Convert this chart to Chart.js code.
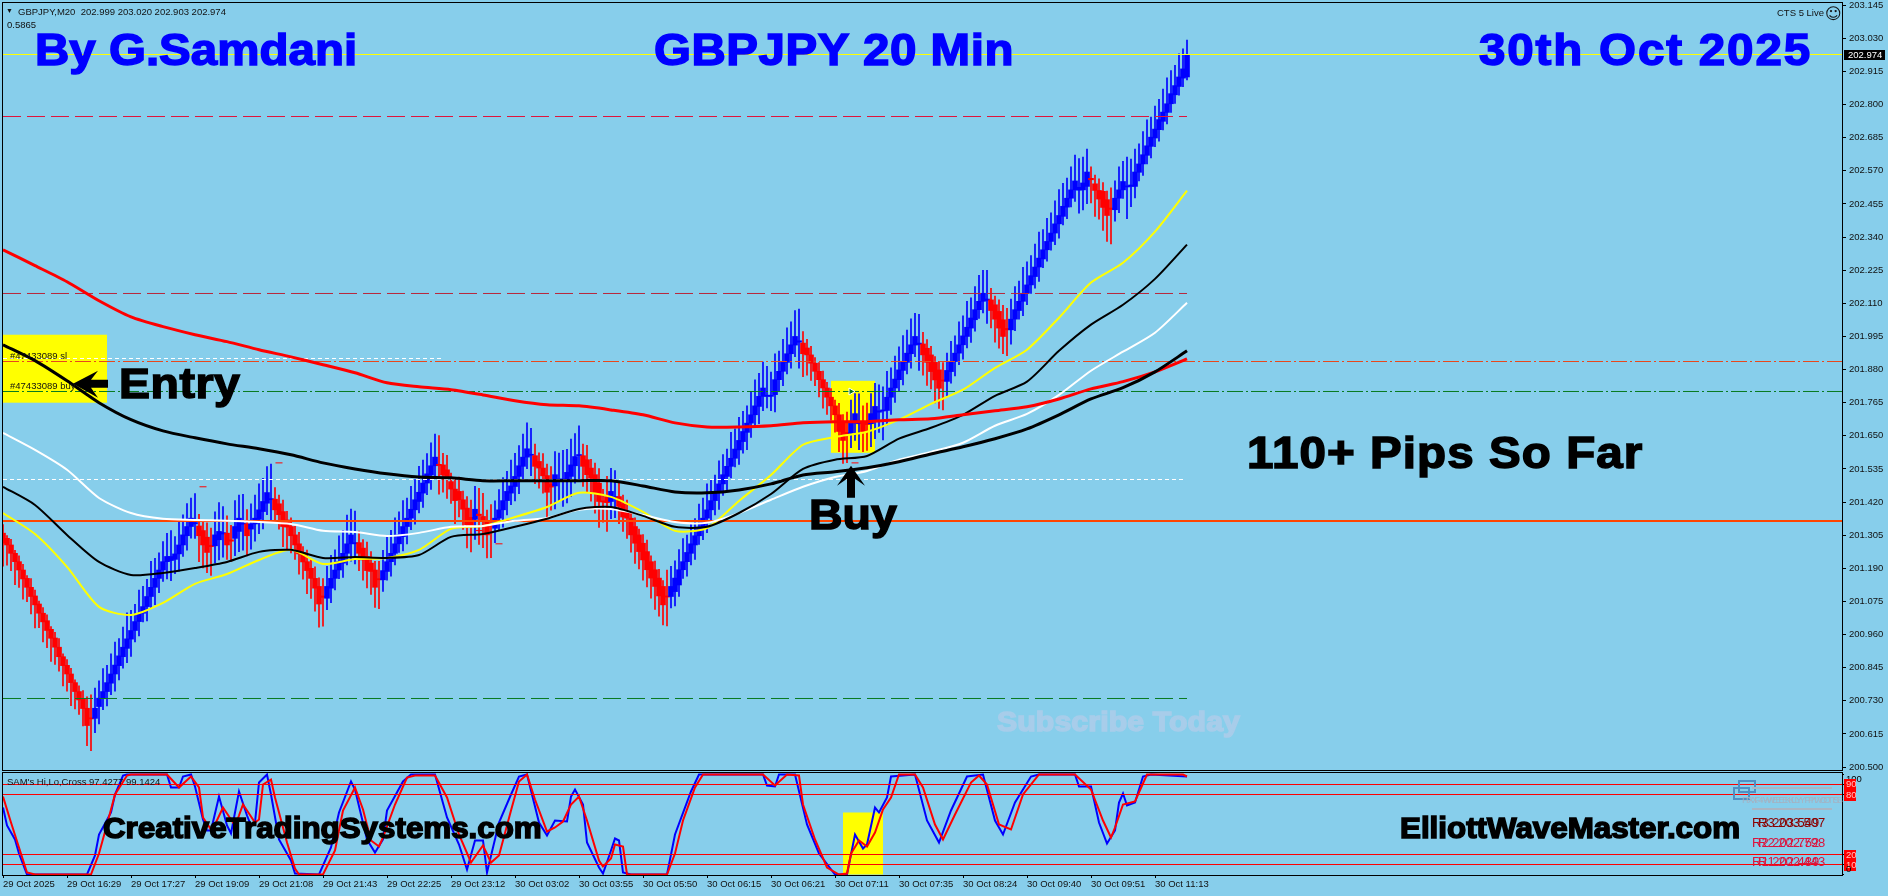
<!DOCTYPE html>
<html>
<head>
<meta charset="utf-8">
<title>GBPJPY 20 Min</title>
<script src="https://cdn.jsdelivr.net/npm/chart.js@4/dist/chart.umd.min.js"></script>
<style>
    html, body { margin: 0; padding: 0; width: 1888px; height: 896px; overflow: hidden; background: #87ceeb; }
    canvas { position: absolute; left: 0; }
    #priceChart { top: 0; }
    #oscChart { top: 771px; }
    .note { position: absolute; white-space: pre; line-height: 1; font-family: 'Liberation Sans', Arial, sans-serif; font-weight: bold; color: #000; -webkit-text-stroke: 1.5px currentColor; transform-origin: left top; transform: scaleX(1.08); }
    .title { font-size: 44px; color: #0000ff; }
    .small { position: absolute; white-space: pre; line-height: 1; font: 9.5px 'Liberation Sans', Arial, sans-serif; color: #111; }
    .pivot { position: absolute; white-space: pre; line-height: 1; font: 13px 'Liberation Sans', Arial, sans-serif; }
</style>
</head>
<body>
<canvas id="priceChart" width="1888" height="771"></canvas>
<canvas id="oscChart" width="1888" height="125"></canvas>

<div class="small" style="left:6px;top:7px;font-size:7px">▼</div>
<div class="small" style="left:18px;top:6px">GBPJPY,M20  202.999 203.020 202.903 202.974</div>
<div class="small" style="left:7px;top:19px">0.5865</div>
<div class="small" style="left:1777px;top:7px">CTS 5 Live</div>
<div class="small" style="left:1825px;top:4px;font:16px 'DejaVu Sans'">☺</div>
<div class="small" style="left:10px;top:350px">#47433089 sl</div>
<div class="small" style="left:10px;top:380px">#47433089 buy</div>
<div class="small" style="left:7px;top:776px">SAM's Hi,Lo,Cross 97.4277 99.1424</div>

<div class="note title" style="left:35px;top:28px">By G.Samdani</div>
<div class="note title" style="left:654px;top:28px;letter-spacing:.5px">GBPJPY 20 Min</div>
<div class="note title" style="left:1479px;top:28px;letter-spacing:1.7px">30th Oct 2025</div>
<div class="note" style="left:119px;top:361.5px;font-size:43px;letter-spacing:.5px">Entry</div>
<div class="note" style="left:809px;top:492.5px;font-size:43px">Buy</div>
<div class="note" style="left:1247px;top:431px;font-size:44px;letter-spacing:1px">110+ Pips So Far</div>
<div class="note" style="left:997px;top:708px;font-size:28px;letter-spacing:.1px;color:#a8cdea">Subscribe Today</div>
<div class="note" style="left:103px;top:813.5px;font-size:29px">CreativeTradingSystems.com</div>
<div class="note" style="left:1400px;top:813.5px;font-size:29px">ElliottWaveMaster.com</div>

<div style="position:absolute;left:1738px;top:780px;width:14px;height:9px;border:2px solid #4f8fc4"></div>
<div style="position:absolute;left:1733px;top:787px;width:13px;height:9px;border:2px solid #4f8fc4"></div>
<div style="position:absolute;left:1752px;top:787px;width:80px;height:2px;background:#a9b6c4"></div>
<div style="position:absolute;left:1752px;top:808px;width:80px;height:2px;background:#a9b6c4"></div>
<div class="small" style="left:1742px;top:794px;color:#9fb2c6">FXF-WEEKLY PIVOTS</div>
<div class="small" style="left:1746px;top:794px;color:#a7b4c2">FX4-WEEKLY PIVOTS</div>
<div class="pivot" style="left:1752px;top:815px;color:#8b0000">R3 203.549</div>
<div class="pivot" style="left:1758px;top:815px;color:#8b0000">R3 203.507</div>
<div class="pivot" style="left:1752px;top:835px;color:#dc143c">R2 202.752</div>
<div class="pivot" style="left:1758px;top:835px;color:#dc143c">R2 202.798</div>
<div class="pivot" style="left:1752px;top:854px;color:#dc143c">R1 202.489</div>
<div class="pivot" style="left:1758px;top:854px;color:#dc143c">R1 202.443</div>

<script>
Chart.defaults.font.family = "'Liberation Sans', Arial, sans-serif";
Chart.defaults.font.size = 9.5;
Chart.defaults.color = '#111';

// Candle bodies, bar by bar
const opens = [
    201.312, 201.294, 201.271, 201.242, 201.213, 201.184, 201.155, 201.124, 201.094, 201.066,
    201.034, 201.008, 200.978, 200.948, 200.916, 200.883, 200.853, 200.823, 200.793, 200.762,
    200.735, 200.704, 200.671, 200.669, 200.710, 200.739, 200.762, 200.791, 200.823, 200.852,
    200.883, 200.912, 200.944, 200.974, 201.005, 201.034, 201.057, 201.092, 201.124, 201.155,
    201.184, 201.213, 201.217, 201.221, 201.240, 201.271, 201.303, 201.335, 201.344, 201.337,
    201.321, 201.298, 201.270, 201.268, 201.289, 201.309, 201.312, 201.289, 201.294, 201.318,
    201.343, 201.344, 201.326, 201.344, 201.360, 201.387, 201.416, 201.428, 201.430, 201.414,
    201.387, 201.358, 201.335, 201.306, 201.275, 201.245, 201.213, 201.190, 201.155, 201.127,
    201.094, 201.086, 201.121, 201.155, 201.184, 201.208, 201.242, 201.275, 201.275, 201.279,
    201.260, 201.231, 201.208, 201.184, 201.154, 201.150, 201.179, 201.213, 201.242, 201.275,
    201.300, 201.335, 201.364, 201.393, 201.422, 201.451, 201.486, 201.514, 201.546, 201.551,
    201.549, 201.532, 201.491, 201.465, 201.457, 201.428, 201.399, 201.367, 201.360, 201.378,
    201.370, 201.352, 201.341, 201.329, 201.364, 201.393, 201.425, 201.451, 201.474, 201.509,
    201.544, 201.576, 201.582, 201.581, 201.561, 201.538, 201.512, 201.483, 201.476, 201.495,
    201.495, 201.497, 201.509, 201.546, 201.581, 201.581, 201.567, 201.538, 201.515, 201.486,
    201.424, 201.439, 201.422, 201.436, 201.439, 201.414, 201.387, 201.364, 201.335, 201.306,
    201.277, 201.248, 201.213, 201.185, 201.156, 201.127, 201.094, 201.092, 201.109, 201.132,
    201.185, 201.213, 201.242, 201.271, 201.303, 201.329, 201.364, 201.393, 201.425, 201.454,
    201.483, 201.509, 201.544, 201.572, 201.601, 201.630, 201.662, 201.694, 201.723, 201.752,
    201.787, 201.787, 201.787, 201.793, 201.845, 201.874, 201.905, 201.935, 201.965, 201.975,
    201.972, 201.955, 201.931, 201.902, 201.874, 201.845, 201.816, 201.784, 201.754, 201.723,
    201.694, 201.662, 201.659, 201.694, 201.692, 201.694, 201.694, 201.692, 201.700, 201.732,
    201.736, 201.738, 201.784, 201.816, 201.845, 201.877, 201.905, 201.935, 201.965, 201.967,
    201.969, 201.954, 201.931, 201.905, 201.879, 201.844, 201.839, 201.873, 201.908, 201.937,
    201.966, 201.995, 202.024, 202.053, 202.088, 202.117, 202.120, 202.122, 202.105, 202.082,
    202.053, 202.023, 202.018, 202.055, 202.085, 202.117, 202.145, 202.174, 202.203, 202.236,
    202.264, 202.296, 202.325, 202.354, 202.386, 202.412, 202.444, 202.475, 202.504, 202.503,
    202.504, 202.516, 202.544, 202.525, 202.502, 202.499, 202.470, 202.441, 202.435, 202.475,
    202.504, 202.514, 202.516, 202.516, 202.565, 202.594, 202.624, 202.655, 202.684, 202.713,
    202.742, 202.773, 202.803, 202.834, 202.863, 202.892, 202.896
];
const closes = [
    201.277, 201.271, 201.242, 201.213, 201.184, 201.153, 201.124, 201.092, 201.063, 201.034,
    201.004, 200.974, 200.947, 200.916, 200.883, 200.852, 200.823, 200.793, 200.762, 200.733,
    200.703, 200.644, 200.667, 200.704, 200.739, 200.762, 200.793, 200.823, 200.854, 200.886,
    200.916, 200.945, 200.974, 201.005, 201.034, 201.057, 201.092, 201.124, 201.155, 201.184,
    201.213, 201.231, 201.231, 201.240, 201.271, 201.306, 201.335, 201.364, 201.349, 201.303,
    201.271, 201.245, 201.265, 201.306, 201.318, 201.314, 201.271, 201.284, 201.335, 201.364,
    201.347, 201.303, 201.344, 201.364, 201.393, 201.422, 201.453, 201.432, 201.393, 201.376,
    201.335, 201.333, 201.303, 201.271, 201.240, 201.212, 201.182, 201.155, 201.121, 201.066,
    201.089, 201.127, 201.155, 201.184, 201.213, 201.242, 201.275, 201.306, 201.279, 201.242,
    201.219, 201.182, 201.179, 201.124, 201.150, 201.182, 201.213, 201.242, 201.275, 201.306,
    201.335, 201.364, 201.395, 201.428, 201.454, 201.486, 201.518, 201.546, 201.576, 201.547,
    201.514, 201.503, 201.465, 201.425, 201.428, 201.395, 201.341, 201.337, 201.395, 201.373,
    201.352, 201.306, 201.337, 201.364, 201.393, 201.425, 201.457, 201.476, 201.509, 201.546,
    201.576, 201.605, 201.586, 201.544, 201.538, 201.511, 201.454, 201.472, 201.515, 201.500,
    201.500, 201.523, 201.549, 201.578, 201.585, 201.544, 201.515, 201.503, 201.451, 201.422,
    201.420, 201.418, 201.457, 201.439, 201.405, 201.368, 201.364, 201.306, 201.277, 201.248,
    201.219, 201.185, 201.156, 201.127, 201.094, 201.063, 201.090, 201.127, 201.156, 201.185,
    201.213, 201.245, 201.275, 201.303, 201.333, 201.364, 201.393, 201.425, 201.454, 201.483,
    201.515, 201.544, 201.572, 201.604, 201.634, 201.665, 201.694, 201.723, 201.754, 201.787,
    201.816, 201.791, 201.791, 201.845, 201.874, 201.905, 201.935, 201.966, 201.995, 201.980,
    201.935, 201.931, 201.902, 201.874, 201.845, 201.816, 201.784, 201.754, 201.723, 201.665,
    201.634, 201.657, 201.694, 201.727, 201.696, 201.665, 201.689, 201.727, 201.752, 201.737,
    201.740, 201.784, 201.816, 201.847, 201.879, 201.908, 201.937, 201.966, 201.995, 201.972,
    201.931, 201.905, 201.873, 201.844, 201.815, 201.840, 201.877, 201.908, 201.937, 201.966,
    201.997, 202.027, 202.059, 202.088, 202.117, 202.145, 202.125, 202.085, 202.055, 202.024,
    201.995, 202.018, 202.055, 202.088, 202.117, 202.145, 202.174, 202.206, 202.236, 202.267,
    202.296, 202.325, 202.354, 202.386, 202.415, 202.447, 202.475, 202.504, 202.535, 202.513,
    202.528, 202.566, 202.539, 202.502, 202.472, 202.443, 202.415, 202.436, 202.475, 202.504,
    202.533, 202.518, 202.521, 202.566, 202.594, 202.626, 202.657, 202.687, 202.715, 202.748,
    202.774, 202.803, 202.838, 202.866, 202.896, 202.924, 202.974
];
// Wick lengths above and below each body, in pips
const upWick = [
    3,1,2,1,2,2,1,3,2,1,2,2,1,2,3,1,2,2,1,2,3,4,8,
    7,6,8,6,7,8,6,7,9,7,6,8,7,6,9,7,6,7,8,9,6,8,7,8,7,10,
    4,3,5,6, 8,10,9, 6,5, 9,8,10, 5, 7,8,9,8,9,12,
    4,3,4,3,3,3,4,2,4,3,4,3,6, 7,8,7,9,8,10,9,11, 4,3,5,4,3,6,
    7,9,8,9,8,9,7,8,7,9,8,7,8,8, 10,4,5,3,4,5,3,4,6, 8, 9,8,4,7,
    6,7,8,7,9,8,7,8,9,9, 4,3,5,4,6, 8,9,10,8,9,8,10, 4,5,3,4,5,4,7, 8,9,
    5,3,4,2,3,2,3,4,2,3,3,2,9,
    7,6,7,8,6,7,6,8,7,9,7,6,8,7,6,9,7,8,7,6,8,9,8,9,10,8,9,7,8,9,8,9,11,
    4,3,3,2,3,3,2,3,2,4,3,7, 8,7,10, 6,7, 7,8,9,8,9,7,8,8,9,8,9,8,10,
    4,3,3,2,3,6, 6,7,6,8,7,9,7,8,9,8,10, 4,3,4,5,7,
    7,8,7,9,8,7,8,9,7,8,7,8,9,8,7,8,9,10,9,8, 4,3,4,3,3,7,
    6,8,7,10,9,8,7,8,9,7,8,7,8,9,8,7,8,7,5
];
const downWick = [
    8,7,6,8,6,7,5,6,8,5,7,6,8,6,5,7,6,8,6,5,6,7,11,
    5,6,4,5,4,6,5,4,5,6,4,5,3,5,4,6,5,4,6,7,5,6,4,5,4,5,
    9,8,7,10, 6,7,8, 5,7, 6,7,9, 7, 7,6,5,6,4,8,
    4,5,7,8,6,5,7,6,8,7,8,8,10, 4,5,4,3,5,4,6,7, 6,7,6,8,7,10,
    4,3,5,4,3,5,6,4,5,4,5,4,5,4, 10,6,7,5,8,6,7,8,9, 7, 10,9,8,11,
    5,4,6,5,4,5,6,5,4,7, 6,7,6,9,8, 8,7,9,8,7,6,8, 7,6,8,7,9,7,10, 6,7,
    6,5,7,6,7,6,7,6,7,8,7,7,10,
    4,5,4,3,5,4,5,3,4,5,4,5,6,4,5,4,3,5,4,6,5,4,6,5,4,5,6,4,5,4,5,4,9,
    8,7,6,5,6,7,6,5,6,7,8,10, 5,6,9, 7,9, 8,6,7,10,5,6,5,4,5,4,5,4,9,
    7,8,6,8,7,10, 5,4,5,4,5,4,5,4,3,4,8, 6,8,7,6,9,
    5,4,3,5,4,3,4,5,3,4,3,4,5,3,4,3,4,8,7,6, 8,9,7,8,9,12,
    4,5,3,11,7,4,3,4,3,4,3,4,3,4,3,3,3,3,1
];

// Moving averages, sampled every eighth bar
const maBars = [0,8,16,24,32,40,48,56,64,72,80,88,96,104,112,120,128,136,144,152,160,168,176,184,192,200,208,216,224,232,240,248,256,264,272,280,288,296];
const slowRedMa = [202.296,202.241,202.185,202.119,202.063,202.029,202.001,201.977,201.949,201.924,201.897,201.869,201.834,201.820,201.810,201.792,201.772,201.758,201.754,201.740,201.723,201.695,201.681,201.681,201.685,201.695,201.699,201.699,201.706,201.709,201.723,201.737,201.751,201.778,201.813,201.838,201.872,201.917];
const slowBlackMa = [201.966,201.911,201.841,201.765,201.706,201.667,201.643,201.622,201.605,201.584,201.556,201.535,201.518,201.507,201.504,201.494,201.494,201.494,201.494,201.494,201.476,201.455,201.452,201.462,201.483,201.514,201.525,201.539,201.560,201.587,201.612,201.640,201.674,201.723,201.778,201.817,201.872,201.945];
const whiteMa = [201.660,201.601,201.532,201.434,201.382,201.362,201.358,201.355,201.351,201.344,201.320,201.316,201.302,201.313,201.334,201.337,201.355,201.365,201.393,201.396,201.375,201.351,201.348,201.382,201.428,201.473,201.507,201.528,201.567,201.594,201.626,201.685,201.726,201.792,201.876,201.942,202.008,202.112];
const blackMa = [201.473,201.410,201.306,201.212,201.167,201.174,201.191,201.212,201.247,201.254,201.226,201.229,201.226,201.236,201.299,201.309,201.334,201.362,201.396,201.403,201.372,201.334,201.334,201.382,201.448,201.535,201.567,201.580,201.640,201.678,201.723,201.789,201.838,201.945,202.036,202.105,202.195,202.314];
const yellowMa = [201.382,201.309,201.195,201.056,201.028,201.070,201.136,201.170,201.219,201.254,201.205,201.222,201.226,201.254,201.327,201.337,201.368,201.403,201.452,201.438,201.386,201.320,201.330,201.424,201.514,201.619,201.646,201.664,201.706,201.761,201.810,201.886,201.949,202.060,202.182,202.251,202.359,202.501];

// Price levels
const bidPrice = 202.974;
const pivotHigh = 202.7587;
const pivotMid = 202.1442;
const slPrice = 201.9080;
const buyPrice = 201.8039;
const slTradeLine = 201.9185;
const whiteLevel = 201.4983;
const orangeLevel = 201.3542;
const pivotLow = 200.7379;
const lastBar = 296;

const stopMarkBars = [50, 69, 119, 124, 213];
const stopMarkPrices = [201.473, 201.556, 201.321, 201.275, 201.556];

// Tick labels
const priceTicks = [203.145,203.030,202.915,202.800,202.685,202.570,202.455,202.340,202.225,202.110,201.995,201.880,201.765,201.650,201.535,201.420,201.305,201.190,201.075,200.960,200.845,200.730,200.615,200.500];
const dateLabels = ['29 Oct 2025','29 Oct 16:29','29 Oct 17:27','29 Oct 19:09','29 Oct 21:08','29 Oct 21:43','29 Oct 22:25','29 Oct 23:12','30 Oct 03:02','30 Oct 03:55','30 Oct 05:50','30 Oct 06:15','30 Oct 06:21','30 Oct 07:11','30 Oct 07:35','30 Oct 08:24','30 Oct 09:40','30 Oct 09:51','30 Oct 11:13'];
const barsPerLabel = 16;

// Oscillator lines
const fastBars = [0,1,3,4,6,21,23,24,27,28,30,31,41,42,44,45,47,48,50,51,52,54,56,57,59,61,62,63,64,66,67,69,72,73,79,82,84,87,88,91,93,95,96,100,102,108,111,114,116,118,120,121,124,127,129,131,134,136,138,141,142,143,145,146,149,150,152,153,154,155,157,166,168,172,174,190,191,193,194,198,201,204,208,211,213,215,216,218,219,221,222,228,231,234,237,241,245,248,250,253,257,259,268,269,272,274,276,278,279,280,281,283,285,287,296];
const fastValues = [67,49,35,21,0,0,19,40,62,80,99,100,100,87,87,98,100,88,55,44,44,78,49,41,83,59,49,52,92,100,80,35,14,1,0,27,62,93,85,35,22,35,64,93,100,100,57,30,5,34,34,2,52,80,98,100,52,39,54,53,78,85,70,32,7,1,24,36,34,2,0,0,40,83,100,100,89,88,100,100,50,21,0,0,40,26,30,67,62,77,98,100,54,32,64,98,100,54,40,72,98,100,100,88,88,52,31,44,72,81,69,72,98,100,98];
const slowBars = [0,2,4,6,8,22,24,26,28,31,32,41,44,47,49,50,52,53,55,57,58,59,60,61,63,64,65,67,68,71,73,74,80,83,85,88,90,92,94,95,98,101,103,108,111,114,117,120,122,124,127,129,131,133,136,138,140,142,144,146,149,150,152,153,155,156,166,168,170,173,175,190,193,196,199,200,203,206,209,211,212,214,216,218,220,222,224,228,230,233,235,238,242,244,246,249,252,255,259,268,272,275,277,278,280,283,286,295,296];
const slowValues = [78,52,27,2,0,0,21,50,80,99,100,100,87,98,87,57,45,50,67,55,49,59,70,64,52,55,90,95,77,32,6,0,0,24,64,87,65,34,28,37,70,97,99,99,77,40,12,29,12,19,64,93,100,75,43,47,53,70,78,54,14,8,16,30,28,0,0,21,54,87,100,100,89,100,99,70,35,7,0,1,21,34,28,42,65,77,100,100,87,50,35,60,92,99,90,50,45,80,100,100,85,54,37,47,70,73,100,100,98];
const oscLevels = [90, 80, 20, 10];
const oscTicks = [100, 90, 80, 20, 10, 0];

// Highlight boxes as bar range and value range
const entryBox = [0, 26, 201.765, 202.001];
const buyBox = [207, 218, 201.591, 201.841];
const oscBox = [210, 220, 0, 62];

const barIndex = closes.map((_, i) => i);
const barColor = ctx => closes[ctx.dataIndex] >= opens[ctx.dataIndex] ? '#0000ff' : '#ff0000';

function levelLine(price, color, dash, endBar, width) {
    return {
        type: 'line',
        data: [{ x: 0, y: price }, { x: endBar, y: price }],
        borderColor: color,
        borderWidth: width || 1,
        borderDash: dash,
        pointRadius: 0,
        order: 25
    };
}

function maLine(values, color, width, order) {
    return {
        type: 'line',
        data: maBars.map((b, i) => ({ x: b, y: values[i] })),
        borderColor: color,
        borderWidth: width,
        pointRadius: 0,
        tension: 0.25,
        order: order
    };
}

function fillBox(chart, box, yScaleId) {
    const ctx = chart.ctx;
    const x = chart.scales.x;
    const y = chart.scales[yScaleId];
    const left = Math.max(x.getPixelForValue(box[0]), chart.chartArea.left);
    const right = x.getPixelForValue(box[1]);
    const top = y.getPixelForValue(box[3]);
    const bottom = y.getPixelForValue(box[2]);
    ctx.fillStyle = '#ffff00';
    ctx.fillRect(left, top, right - left, bottom - top);
}

function drawArrow(chart, bar, price, points) {
    const ctx = chart.ctx;
    const px = chart.scales.x.getPixelForValue(bar);
    const py = chart.scales.y.getPixelForValue(price);
    ctx.save();
    ctx.fillStyle = '#000';
    ctx.beginPath();
    points.forEach((p, i) => {
        if (i === 0) ctx.moveTo(px + p[0], py + p[1]);
        else ctx.lineTo(px + p[0], py + p[1]);
    });
    ctx.closePath();
    ctx.fill();
    ctx.restore();
}

// Black frame round a panel
const panelFrame = {
    id: 'panelFrame',
    afterDatasetsDraw(chart) {
        const a = chart.chartArea;
        const ctx = chart.ctx;
        ctx.save();
        ctx.strokeStyle = '#000';
        ctx.lineWidth = 1;
        ctx.strokeRect(Math.round(a.left) - 0.5, Math.round(a.top) + 0.5, Math.round(a.right - a.left), Math.round(a.bottom - a.top));
        ctx.restore();
    }
};

const priceExtras = {
    id: 'priceExtras',
    beforeDatasetsDraw(chart) {
        fillBox(chart, entryBox, 'y');
        fillBox(chart, buyBox, 'y');
    },
    afterDatasetsDraw(chart) {
        drawArrow(chart, 17.5, 201.831, [[0,0],[25,-13],[18,-4],[35,-4],[35,4],[18,4],[25,14]]);
        drawArrow(chart, 212, 201.546, [[0,0],[14,20],[4,13],[4,32],[-4,32],[-4,13],[-14,20]]);
        // last price box on the axis
        const ctx = chart.ctx;
        const y = chart.scales.y.getPixelForValue(bidPrice);
        ctx.save();
        ctx.fillStyle = '#000';
        ctx.fillRect(1844, Math.round(y) - 5, 41, 10);
        ctx.fillStyle = '#fff';
        ctx.font = "9.5px 'Liberation Sans'";
        ctx.textBaseline = 'middle';
        ctx.fillText(bidPrice.toFixed(3), 1848, Math.round(y));
        ctx.restore();
    }
};

const oscExtras = {
    id: 'oscExtras',
    beforeDatasetsDraw(chart) {
        fillBox(chart, oscBox, 'y');
    },
    afterDatasetsDraw(chart) {
        const ctx = chart.ctx;
        const y = chart.scales.y;
        ctx.save();
        ctx.font = "9.5px 'Liberation Sans'";
        ctx.textBaseline = 'middle';
        oscTicks.forEach(v => {
            const isLevel = oscLevels.includes(v);
            const shift = v === 100 ? 5 : v === 0 ? -6 : 0;
            const py = Math.round(y.getPixelForValue(v)) + shift;
            if (isLevel) {
                ctx.fillStyle = '#ff0000';
                ctx.fillRect(1844, py - 5, 12, 11);
                ctx.fillStyle = '#ffc0c0';
            } else {
                ctx.fillStyle = '#000';
            }
            ctx.fillText(String(v), 1846, py + 0.5);
        });
        ctx.restore();
    }
};

// Stops Chart.js reserving room for the first and last tick labels
function fixAxisPadding(scale) {
    scale.paddingTop = 0;
    scale.paddingBottom = 0;
    scale.paddingLeft = 0;
    scale.paddingRight = 0;
}

// Price panel
new Chart(document.getElementById('priceChart').getContext('2d'), {
    data: {
        datasets: [
            {
                type: 'bar',
                data: barIndex.map(i => {
                    const top = Math.max(opens[i], closes[i]) + upWick[i] / 100;
                    const bottom = Math.min(opens[i], closes[i]) - downWick[i] / 100;
                    return { x: i, y: [bottom, top] };
                }),
                backgroundColor: barColor,
                barThickness: 1,
                grouped: false,
                order: 40
            },
            {
                type: 'bar',
                data: barIndex.map(i => ({ x: i, y: [opens[i], closes[i]] })),
                backgroundColor: barColor,
                barThickness: 5,
                grouped: false,
                order: 30
            },
            levelLine(bidPrice, '#ffff00', [], 460),
            levelLine(pivotHigh, '#e0143c', [18, 6], lastBar),
            levelLine(pivotMid, '#b8283c', [18, 6], lastBar),
            levelLine(slPrice, '#e8481c', [16, 3, 2, 3], 460),
            levelLine(buyPrice, '#087a20', [16, 3, 2, 3], 460),
            levelLine(slTradeLine, '#ffffff', [4, 3], 110),
            levelLine(whiteLevel, '#ffffff', [4, 3], 295),
            levelLine(orangeLevel, '#ff4500', [], 460, 2),
            levelLine(pivotLow, '#087a20', [18, 6], lastBar),
            maLine(yellowMa, '#ffff00', 2, 14),
            maLine(whiteMa, '#ffffff', 2, 13),
            maLine(blackMa, '#000000', 2, 12),
            maLine(slowRedMa, '#ff0000', 3, 11),
            maLine(slowBlackMa, '#000000', 3, 10),
            {
                type: 'line',
                data: stopMarkBars.map((b, i) => ({ x: b, y: stopMarkPrices[i] })),
                showLine: false,
                pointStyle: 'line',
                pointRadius: 3.5,
                pointBorderWidth: 1,
                pointBorderColor: '#ff0000',
                order: 5
            },
            {
                type: 'line',
                data: [{ x: 212, y: buyPrice }],
                showLine: false,
                pointStyle: 'triangle',
                rotation: 90,
                pointRadius: 4,
                pointBackgroundColor: '#087a20',
                pointBorderColor: '#ffffff',
                pointBorderWidth: 1,
                order: 4
            }
        ]
    },
    options: {
        responsive: false,
        animation: false,
        events: [],
        layout: { autoPadding: false, padding: { left: 3, top: 2, bottom: 1, right: 0 } },
        plugins: { legend: { display: false }, tooltip: { enabled: false } },
        scales: {
            x: { type: 'linear', min: 0, max: 460, offset: false, display: false },
            y: {
                type: 'linear',
                position: 'right',
                min: 200.48963,
                max: 203.1563,
                afterBuildTicks: scale => { scale.ticks = priceTicks.map(v => ({ value: v })); },
                afterFit: scale => { scale.width = 45; fixAxisPadding(scale); },
                border: { display: false },
                grid: { drawOnChartArea: false, tickLength: 3, color: '#000' },
                ticks: { padding: 3, autoSkip: false, callback: v => v.toFixed(3) }
            }
        }
    },
    plugins: [priceExtras, panelFrame]
});

// Oscillator panel
new Chart(document.getElementById('oscChart').getContext('2d'), {
    data: {
        datasets: [
            {
                type: 'line',
                data: fastBars.map((b, i) => ({ x: b, y: fastValues[i] })),
                borderColor: '#0000ff',
                borderWidth: 2,
                pointRadius: 0,
                order: 3
            },
            {
                type: 'line',
                data: slowBars.map((b, i) => ({ x: b, y: slowValues[i] })),
                borderColor: '#ff0000',
                borderWidth: 2,
                pointRadius: 0,
                order: 2
            },
            ...oscLevels.map(v => ({
                type: 'line',
                data: [{ x: 0, y: v }, { x: 460, y: v }],
                borderColor: '#ff0000',
                borderWidth: 1,
                pointRadius: 0,
                order: 1
            }))
        ]
    },
    options: {
        responsive: false,
        animation: false,
        events: [],
        layout: { autoPadding: false, padding: { left: 3, top: 1, bottom: 0, right: 0 } },
        plugins: { legend: { display: false }, tooltip: { enabled: false } },
        scales: {
            x: {
                type: 'linear',
                min: 0,
                max: 460,
                afterBuildTicks: scale => { scale.ticks = dateLabels.map((_, k) => ({ value: k * barsPerLabel })); },
                afterFit: scale => { scale.height = 21; fixAxisPadding(scale); },
                border: { display: false },
                grid: { drawOnChartArea: false, tickLength: 3, color: '#000' },
                ticks: {
                    align: 'start',
                    autoSkip: false,
                    maxRotation: 0,
                    padding: 1,
                    callback: v => dateLabels[v / barsPerLabel]
                }
            },
            y: {
                type: 'linear',
                position: 'right',
                min: -0.5,
                max: 102.5,
                afterBuildTicks: scale => { scale.ticks = oscTicks.map(v => ({ value: v })); },
                afterFit: scale => { scale.width = 45; fixAxisPadding(scale); },
                border: { display: false },
                grid: { drawOnChartArea: false, tickLength: 1, color: '#000' },
                ticks: { callback: () => '' }
            }
        }
    },
    plugins: [oscExtras, panelFrame]
});
</script>
</body>
</html>
